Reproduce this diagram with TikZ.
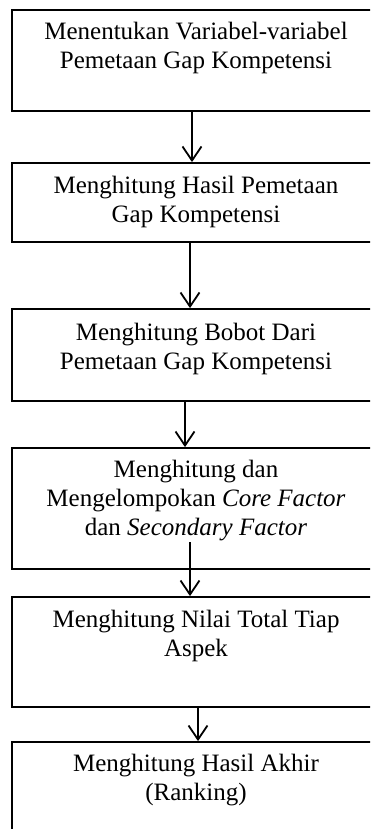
\documentclass[tikz,border=0pt]{standalone}
\usepackage{fontspec}
\setmainfont{Liberation Serif}
\usetikzlibrary{positioning,arrows.meta}

\tikzset{
  kotak/.style={draw, line width=1.8pt, minimum width=368pt, inner sep=0pt},
  teks/.style={align=center, inner sep=0pt, outer sep=0pt, font=\fontsize{25}{29}\selectfont},
  panah/.style={line width=1.8pt, -{Straight Barb[length=14pt,width=19pt]}}
}

\begin{document}
\begin{tikzpicture}[x=1pt,y=1pt]
\path[use as bounding box,clip] (0,0) rectangle (370,-829);
% kotak-kotak langkah
\node[kotak, minimum height=101pt] (k1) at (196,-60.5) {};
\node[kotak, minimum height=79pt]  (k2) at (196,-202.5) {};
\node[kotak, minimum height=92pt]  (k3) at (196,-355) {};
\node[kotak, minimum height=121pt] (k4) at (196,-508.5) {};
\node[kotak, minimum height=110pt] (k5) at (196,-652) {};
\node[kotak, minimum height=108pt] (k6) at (196,-796) {};
% teks
\node[teks, below=13.5pt of k1.north] (t1) {Menentukan Variabel-variabel\\Pemetaan Gap Kompetensi};
\node[teks, below=14pt of k2.north] (t2) {Menghitung Hasil Pemetaan\\Gap Kompetensi};
\node[teks, below=15.5pt of k3.north] (t3) {Menghitung Bobot Dari\\Pemetaan Gap Kompetensi};
\node[teks, below=13.5pt of k4.north] (t4) {Menghitung dan\\Mengelompokan \textit{Core Factor}\\dan \textit{Secondary Factor}};
\node[teks, below=14pt of k5.north] (t5) {Menghitung Nilai Total Tiap\\Aspek};
\node[teks, below=13.5pt of k6.north] (t6) {Menghitung Hasil Akhir\\(Ranking)};
% panah
\foreach \a/\b/\dx in {k1/k2/-4, k2/k3/-6, k3/k4/-11, k5/k6/2} {
    \draw[panah] ([xshift=\dx pt]\a.south) -- ([xshift=\dx pt]\b.north);
}
\coordinate (s4) at (190,-542);
\draw[panah] (s4) -- (s4 |- k5.north);
\end{tikzpicture}
\end{document}
